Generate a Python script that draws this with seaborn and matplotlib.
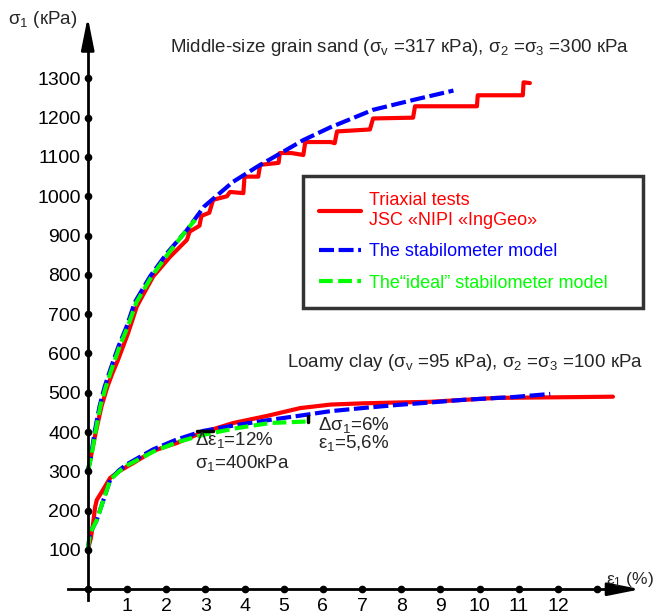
import pandas as pd
import matplotlib
matplotlib.use('Agg')
import matplotlib.pyplot as plt
import seaborn as sns

# ---- sand, sigma2 = sigma3 = 300 kPa ----
sand_test_eps = [0, 0.08, 0.2, 0.35, 0.5, 0.63, 0.77, 1.03, 1.25, 1.34, 1.67, 2.1, 2.53,
                 2.6, 2.85, 2.9, 3.1, 3.2, 3.55, 3.63, 3.97, 4.0, 4.35, 4.4, 4.87, 4.9,
                 5.2, 5.5, 5.55, 6.2, 6.3, 6.36, 7.2, 7.28, 8.3, 8.35, 9.93, 9.95, 11.1,
                 11.12, 11.28]
sand_test_sig = [300, 337, 397, 465, 515, 550, 583, 652, 719, 736, 796, 846, 889,
                 910, 925, 950, 958, 991, 1000, 1011, 1008, 1050, 1050, 1080, 1085, 1110,
                 1110, 1105, 1138, 1138, 1135, 1165, 1170, 1198, 1200, 1229, 1229, 1257, 1257,
                 1290, 1288]

sand_model_eps = [0, 0.08, 0.17, 0.3, 0.43, 0.6, 0.78, 0.99, 1.2, 1.59, 2.02, 2.53, 2.97,
                  3.71, 4.32, 4.91, 5.5, 6.18, 7.28, 8.3, 9.33]
sand_model_sig = [300, 337, 397, 465, 515, 566, 617, 668, 730, 796, 855, 914, 974,
                  1037, 1075, 1109, 1143, 1175, 1220, 1245, 1269]

sand_ideal_eps = [0, 0.09, 0.19, 0.32, 0.46, 0.63, 0.81, 1.02, 1.24, 1.63, 2.06, 2.45, 2.74]
sand_ideal_sig = [300, 337, 397, 465, 515, 566, 617, 668, 730, 796, 855, 905, 940]

# ---- loamy clay, sigma2 = sigma3 = 100 kPa ----
clay_test_eps = [0, 0.08, 0.14, 0.19, 0.23, 0.36, 0.57, 0.8, 1.0, 1.16, 1.67, 2.02, 2.27,
                 2.87, 3.71, 4.57, 5.42, 6.2, 7.0, 7.8, 8.73, 9.6, 10.44, 11.5, 12.5, 13.4]
clay_test_sig = [100, 130, 170, 210, 227, 248, 283, 300, 312, 321, 352, 364, 372,
                 397, 423, 441, 461, 470, 473, 475, 477, 482, 487, 488, 489, 490]

clay_model_eps = [0, 0.06, 0.23, 0.4, 0.57, 0.8, 1.0, 1.67, 2.27, 2.95, 3.8, 4.65, 5.5,
                  6.18, 7.0, 7.9, 8.7, 9.58, 10.85, 11.8]
clay_model_sig = [100, 143, 176, 227, 278, 303, 318, 356, 381, 403, 418, 431, 443,
                  453, 461, 469, 475, 482, 489, 497]

clay_ideal_eps = [0, 0.06, 0.23, 0.4, 0.57, 0.8, 1.0, 1.67, 2.27, 2.95, 3.8, 4.65, 5.62]
clay_ideal_sig = [100, 143, 176, 227, 278, 300, 315, 350, 374, 393, 410, 423, 427]

series_names = ['Triaxial tests\nJSC «NIPI «IngGeo»',
                'The stabilometer model',
                'The\u201cideal\u201d stabilometer model']
series_colors = ['#ff0000', '#0000ff', '#00ff00']

y_tick_values = list(range(100, 1400, 100))
x_tick_values = list(range(1, 14))
x_tick_labels = [str(v) for v in range(1, 13)] + ['']

# Build long table for seaborn
parts = [
    ('sand', series_names[0], sand_test_eps, sand_test_sig),
    ('sand', series_names[1], sand_model_eps, sand_model_sig),
    ('sand', series_names[2], sand_ideal_eps, sand_ideal_sig),
    ('clay', series_names[0], clay_test_eps, clay_test_sig),
    ('clay', series_names[1], clay_model_eps, clay_model_sig),
    ('clay', series_names[2], clay_ideal_eps, clay_ideal_sig),
]
df = pd.concat([pd.DataFrame({'eps': e, 'sigma': s, 'series': n, 'curve': c})
                for c, n, e, s in parts], ignore_index=True)

sns.set_style('white')
plt.rcParams['font.family'] = ['Liberation Sans', 'DejaVu Sans']
plt.rcParams['mathtext.fontset'] = 'custom'
plt.rcParams['mathtext.rm'] = 'Liberation Sans'
plt.rcParams['mathtext.it'] = 'Liberation Sans:italic'
FS = 13.5

fig = plt.figure(figsize=(6.58, 6.15), dpi=100)
ax = fig.add_axes([0.0976, 0.0163, 0.8816, 0.9585])

palette = dict(zip(series_names, series_colors))
dashes = {series_names[0]: '', series_names[1]: (3.6, 1.1), series_names[2]: (3.3, 1.3)}
sns.lineplot(data=df, x='eps', y='sigma', hue='series', style='series',
             hue_order=series_names, style_order=series_names,
             units='curve', estimator=None, sort=False,
             palette=palette, dashes=dashes, lw=3, ax=ax)

# small black markers from the original drawing
ax.plot([2.79, 3.2], [403, 403], color='black', lw=2.5)
ax.plot([5.62, 5.62], [426, 440], color='black', lw=2.5)

# axes through the origin with arrows
ax.set_xlim(-0.6, 14.2)
ax.set_ylim(-40, 1460)
for side in ['top', 'right']:
    ax.spines[side].set_visible(False)
ax.spines['left'].set_position(('data', 0))
ax.spines['bottom'].set_position(('data', 0))
ax.spines['left'].set_bounds(-27, 1420)
ax.spines['bottom'].set_bounds(-0.5, 13.8)
for side in ['left', 'bottom']:
    ax.spines[side].set_linewidth(2)
    ax.spines[side].set_color('black')
ax.annotate('', xy=(0, 1456), xytext=(0, 1380),
            arrowprops=dict(arrowstyle='-|>,head_length=1.4,head_width=0.28',
                            color='black', lw=2, mutation_scale=14,
                            shrinkA=0, shrinkB=0), annotation_clip=False)
ax.annotate('', xy=(14.1, 0), xytext=(13.5, 0),
            arrowprops=dict(arrowstyle='-|>,head_length=1.4,head_width=0.28',
                            color='black', lw=2, mutation_scale=14,
                            shrinkA=0, shrinkB=0), annotation_clip=False)

ax.set_xticks(x_tick_values)
ax.set_xticklabels(x_tick_labels)
ax.set_yticks(y_tick_values)
ax.set_yticklabels([str(v) for v in y_tick_values])
ax.set_xticks([v + 0.5 for v in range(0, 14)], minor=True)
ax.set_yticks([v + 50 for v in range(0, 1400, 100)], minor=True)
ax.tick_params(which='major', direction='inout', length=7, width=1.5,
               labelsize=14, colors='black', pad=1.5)
ax.tick_params(axis='x', which='major', pad=2.5)
ax.tick_params(which='minor', direction='inout', length=5, width=1, colors='black')
ax.plot([0] + x_tick_values, [0] * (len(x_tick_values) + 1), 'o', ms=4.5,
        color='black', clip_on=False)
ax.plot([0] * len(y_tick_values), y_tick_values, 'o', ms=4.5, color='black', clip_on=False)
ax.set_xlabel('')
ax.set_ylabel('')

# texts
ax.text(-2.03, 1449, '\u03c3$_1$ (\u043aPa)', fontsize=FS, va='center', ha='left')
ax.text(13.22, 24, '\u03b5$_1$ (%)', fontsize=12.5, va='center', ha='left')
ax.text(2.1, 1378, 'Middle-size grain sand (\u03c3$_\\mathrm{v}$ =317 \u043aPa), '
        '\u03c3$_2$ =\u03c3$_3$ =300 \u043aPa', fontsize=FS, va='center', ha='left')
ax.text(5.09, 578, 'Loamy clay (\u03c3$_\\mathrm{v}$ =95 \u043aPa), '
        '\u03c3$_2$ =\u03c3$_3$ =100 \u043aPa', fontsize=FS, va='center', ha='left')
ax.text(2.74, 380, '\u0394\u03b5$_1$=12%', fontsize=FS, va='center', ha='left')
ax.text(2.74, 321, '\u03c3$_1$=400\u043aPa', fontsize=FS, va='center', ha='left')
ax.text(5.88, 418, '\u0394\u03c3$_1$=6%', fontsize=FS, va='center', ha='left')
ax.text(5.88, 372, '\u03b5$_1$=5,6%', fontsize=FS, va='center', ha='left')

# legend box
handles, labels = ax.get_legend_handles_labels()
leg = ax.legend(handles, labels, loc='upper left',
                bbox_to_anchor=(303 / 658, 1 - 176 / 615, 340 / 658, 0.0),
                bbox_transform=fig.transFigure, mode='expand', borderaxespad=0,
                fontsize=13, labelcolor='linecolor', frameon=True, fancybox=False,
                handlelength=2.3, handletextpad=0.45, borderpad=0.9, labelspacing=0.8)
leg.get_frame().set_edgecolor('black')
leg.get_frame().set_linewidth(2.5)

fig.savefig('out.png', dpi=100)
